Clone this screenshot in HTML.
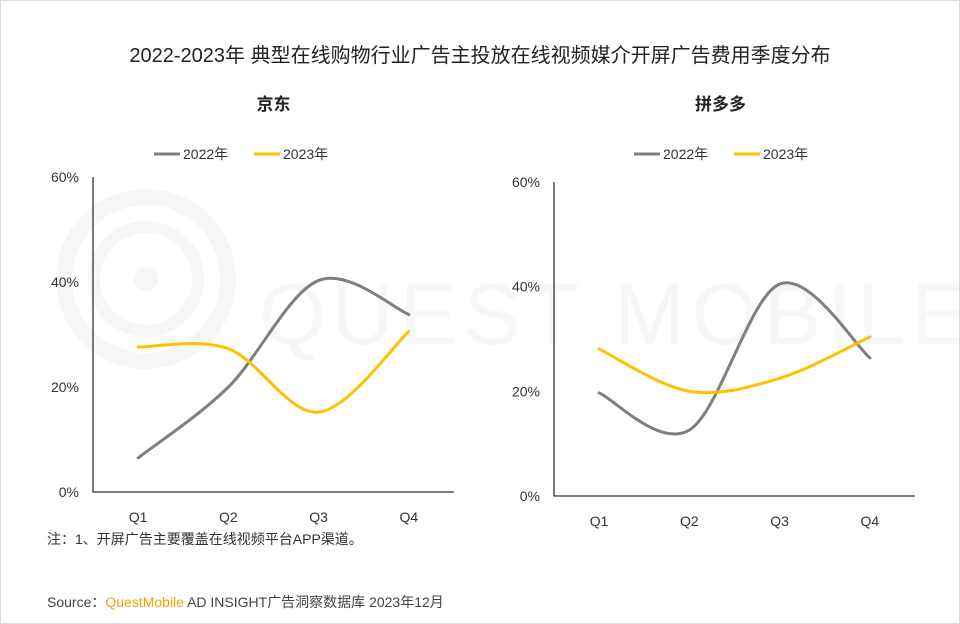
<!DOCTYPE html>
<html><head><meta charset="utf-8">
<style>
body{margin:0;background:#fff;}
#wrap{position:relative;width:958px;height:622px;border:1px solid #d9d9d9;overflow:hidden;font-family:"Liberation Sans","Noto Sans CJK SC",sans-serif;color:#222;}
.t{position:absolute;white-space:nowrap;}
</style></head>
<body>
<div id="wrap">
<svg id="wm" width="958" height="622" style="position:absolute;left:0;top:0">
  <circle cx="145" cy="278" r="82" fill="none" stroke="#f6f6f6" stroke-width="16"/>
  <circle cx="145" cy="278" r="52" fill="none" stroke="#f6f6f6" stroke-width="12"/>
  <circle cx="145" cy="278" r="12" fill="#f6f6f6"/>
  <text x="258" y="343" font-family="Liberation Sans, sans-serif" font-size="86" fill="#f7f7f7" letter-spacing="6">QUEST MOBILE</text>
</svg>
<div class="t" style="left:0;width:958px;text-align:center;top:38px;font-size:20px;">2022-2023年 典型在线购物行业广告主投放在线视频媒介开屏广告费用季度分布</div>
<svg id="chart" width="958" height="622" style="position:absolute;left:0;top:0"></svg>
<div class="t" style="left:46px;top:528px;font-size:14px;color:#333">注：1、开屏广告主要覆盖在线视频平台APP渠道。</div>
<div class="t" style="left:46px;top:591px;font-size:14px;color:#444">Source：<span style="color:#f5a100">QuestMobile</span> AD INSIGHT广告洞察数据库 2023年12月</div>
</div>
<script>
const categories=["Q1","Q2","Q3","Q4"];
const yTicks=[0,20,40,60];
const seriesNames=["2022年","2023年"];
const jd2022=[6.5,20,40.3,33.8];
const jd2023=[27.6,27.3,15.2,30.6];
const pdd2022=[19.7,12.6,40.5,26.4];
const pdd2023=[28.1,20.0,22.5,30.4];
const colors=["#7f7f7f","#ffc000"];
const NS="http://www.w3.org/2000/svg";
const svg=document.getElementById('chart');
function mk(tag,attrs,parent){const e=document.createElementNS(NS,tag);for(const k in attrs)e.setAttribute(k,attrs[k]);(parent||svg).appendChild(e);return e;}
function smooth(p){let d="M"+p[0][0]+","+p[0][1];for(let i=0;i<p.length-1;i++){const p0=p[i-1]||p[i],p1=p[i],p2=p[i+1],p3=p[i+2]||p2;const c1=[p1[0]+(p2[0]-p0[0])/6,p1[1]+(p2[1]-p0[1])/6];const c2=[p2[0]-(p3[0]-p1[0])/6,p2[1]-(p3[1]-p1[1])/6];d+=" C"+c1[0]+","+c1[1]+" "+c2[0]+","+c2[1]+" "+p2[0]+","+p2[1];}return d;}
function panel(cfg,name){
  const g=mk('g',{});
  
  
  const x=i=>cfg.x0+(cfg.x1-cfg.x0)*(i+0.5)/categories.length;
  const y=v=>cfg.y0-(cfg.y0-cfg.yTop)*v/60;
  const st=mk('text',{x:(cfg.x0+cfg.x1)/2+ (cfg.titleDx||0),y:109,'text-anchor':'middle','font-size':17,'font-weight':'bold',fill:'#222','font-family':'Liberation Sans, Noto Sans CJK SC, sans-serif'},g);
  st.textContent=cfg.title;
  
  
  seriesNames.forEach((s,k)=>{
    const lx=cfg.legX+k*100;
    const ln=mk('line',{x1:lx,y1:cfg.legY,x2:lx+26,y2:cfg.legY,stroke:colors[k],'stroke-width':3},g);
    
    
    const lt=mk('text',{x:lx+29,y:cfg.legY+5,'font-size':14,fill:'#333','font-family':'Liberation Sans, Noto Sans CJK SC, sans-serif'},g);
    lt.textContent=s;
    
    
  });
  yTicks.forEach(v=>{
    const t=mk('text',{x:cfg.x0-14,y:y(v)+5,'text-anchor':'end','font-size':14,fill:'#333','font-family':'Liberation Sans, sans-serif'},g);
    t.textContent=v+'%';
    
    
  });
  categories.forEach((c,i)=>{
    const t=mk('text',{x:x(i),y:cfg.y0+30,'text-anchor':'middle','font-size':14,fill:'#333','font-family':'Liberation Sans, sans-serif'},g);
    t.textContent=c;
    
    
  });
  const ax=mk('path',{d:`M${cfg.x0},${cfg.yTop} V${cfg.y0} H${cfg.x1}`,fill:'none',stroke:'#333','stroke-width':1.3},g);
  
  
  cfg.data.forEach((arr,k)=>{
    const pts=arr.map((v,i)=>[x(i),y(v)]);
    const p=mk('path',{d:smooth(pts),fill:'none',stroke:colors[k],'stroke-width':3,'stroke-linecap':'round'},g);
    
    
  });
}
panel({x0:92,x1:453,y0:491,yTop:176,title:'京东',legX:153,legY:153,data:[jd2022,jd2023]},'jd');
panel({x0:553,x1:914,y0:495,yTop:181,title:'拼多多',titleDx:-14,legX:633,legY:153,data:[pdd2022,pdd2023]},'pdd');
</script>
</body></html>
